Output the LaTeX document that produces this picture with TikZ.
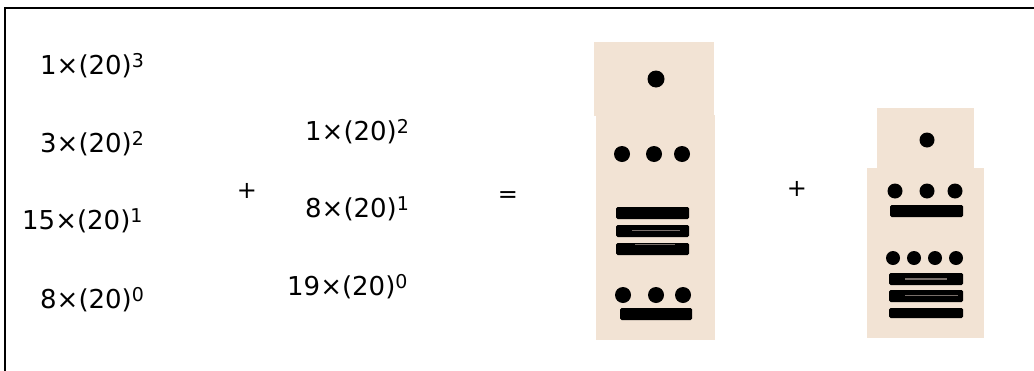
\documentclass[tikz,border=0pt]{standalone}
\usepackage{fontspec}
\setmainfont{DejaVu Sans}
\definecolor{paper}{RGB}{242,227,212}
\definecolor{inkgray}{RGB}{120,110,105}
% a power-of-twenty term: coefficient, exponent
\newcommand{\powterm}[2]{#1×(20)\raisebox{7pt}{\fontsize{19}{19}\selectfont #2}}
\tikzset{
  term/.style={anchor=base west, inner sep=0pt, font=\fontsize{26}{26}\selectfont},
  op/.style={anchor=center, inner sep=0pt, font=\fontsize{24}{24}\selectfont},
  panel/.style={fill=paper},
  bar/.style={fill=black, rounded corners=1.5pt},
  stripe/.style={draw=inkgray, line width=1.4pt},
  frame/.style={draw=black, line width=2.6pt}
}
\begin{document}
\begin{tikzpicture}[x=1pt, y=-1pt]
\useasboundingbox (0,0) rectangle (1034,370);
\fill[white] (0,0) rectangle (1034,370);
% open frame: left side and top
\draw[frame] (5,372) -- (5,8) -- (1036,8);

% first sum: 1, 3, 15, 8 in base twenty
\node[term] (a3) at (40,74)  {\powterm{1}{3}};
\node[term] (a2) at (40,152) {\powterm{3}{2}};
\node[term] (a1) at (22,229) {\powterm{15}{1}};
\node[term] (a0) at (40,308) {\powterm{8}{0}};
\node[op] (plusA) at (247,191) {+};
% second addend: 1, 8, 19
\node[term] (b2) at (305,140) {\powterm{1}{2}};
\node[term] (b1) at (305,217) {\powterm{8}{1}};
\node[term] (b0) at (287,295) {\powterm{19}{0}};
\node[op] (equal) at (508,197) {=};
\node[op] (plusB) at (797,189) {+};

% first Maya numeral column
\fill[panel] (594,42) rectangle (714,116);
\fill[panel] (596,115) rectangle (715,340);
\fill (656,79) circle (8.5);
\foreach \x in {622,654,682} \fill (\x,154) circle (8);
\fill[bar] (616,207) rectangle (689,219);
\fill[bar] (616,225) rectangle (689,237);
\draw[stripe] (632,230.5) -- (680,230.5);
\fill[bar] (616,243) rectangle (689,255);
\draw[stripe] (635,244.5) -- (675,244.5);
\foreach \x in {623,656,683} \fill (\x,295) circle (8);
\fill[bar] (620,308) rectangle (692,320);

% second Maya numeral column
\fill[panel] (877,108) rectangle (974,169);
\fill[panel] (867,168) rectangle (984,338);
\fill (927,140) circle (7.5);
\foreach \x in {895,927,955} \fill (\x,191) circle (7.5);
\fill[bar] (890,205) rectangle (963,217);
\foreach \x in {893,914,935,956} \fill (\x,258) circle (7);
\fill[bar] (889,273) rectangle (963,285);
\draw[stripe] (905,279) -- (947,279);
\fill[bar] (889,290) rectangle (963,302);
\draw[stripe] (905,295.5) -- (958,295.5);
\fill[bar] (889,308) rectangle (963,318);
\end{tikzpicture}
\end{document}
